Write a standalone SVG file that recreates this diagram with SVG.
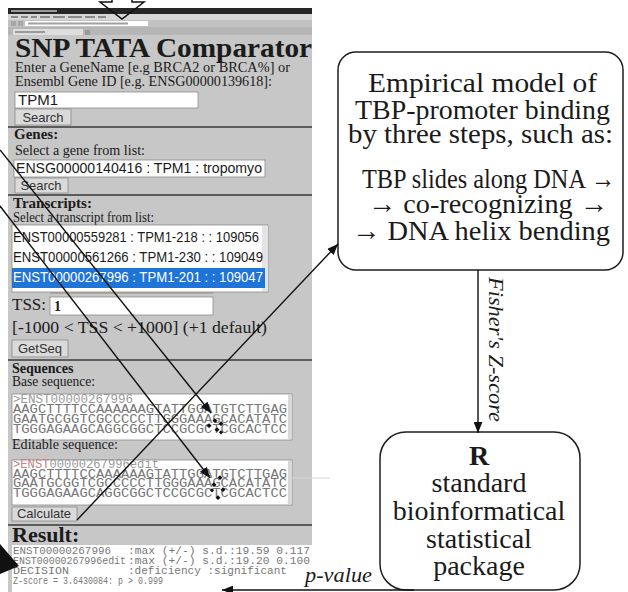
<svg xmlns="http://www.w3.org/2000/svg" width="628" height="592" viewBox="0 0 628 592">
<defs>
<style>
.serif{font-family:"Liberation Serif","Times New Roman",serif;fill:#1b1b1b}
.sans{font-family:"Liberation Sans",Arial,sans-serif;fill:#1b1b1b}
.mono{font-family:"Liberation Mono","Courier New",monospace;fill:#777}
.b{font-weight:bold}
.field{fill:#fff;stroke:#8c8c8c;stroke-width:0.8}
.btn{fill:#dadada;stroke:#8a8a8a;stroke-width:0.8}
.btxt{font-family:"Liberation Sans",Arial,sans-serif;font-size:13px;fill:#333;text-anchor:middle}
.sep{stroke:#5c5c5c;stroke-width:2}
.chip{fill:#8a8a8a}
.node{fill:#fff;stroke:#1e1e1e;stroke-width:1.5}
.ntxt{font-family:"Liberation Serif","Times New Roman",serif;font-size:28px;fill:#1a1a1a}
.conn{stroke:#111;stroke-width:1.4;fill:none}
.dot{fill:#111}
</style>
<marker id="ah" viewBox="0 0 10 8" refX="10" refY="4" markerWidth="11" markerHeight="9" markerUnits="userSpaceOnUse" orient="auto"><path d="M0,0L10,4L0,8z" fill="#111"/></marker>
<clipPath id="resclip"><rect x="12" y="545" width="300" height="47"/></clipPath>
</defs>

<rect width="628" height="592" fill="#fff"/>

<!-- browser window with the web tool -->
<g id="browser">
  <rect x="8" y="8" width="304" height="584" fill="#c7c7c7"/>
  <!-- window chrome -->
  <rect x="8" y="8" width="304" height="6" fill="#262626"/>
  <rect x="11" y="10" width="46" height="2" fill="#9a9a9a"/>
  <rect x="8" y="14" width="304" height="6" fill="#d6d6d6"/>
  <g fill="#8a8a8a">
    <rect x="11" y="16" width="7" height="2"/><rect x="21" y="16" width="7" height="2"/><rect x="31" y="16" width="6" height="2"/>
    <rect x="40" y="16" width="10" height="2"/><rect x="53" y="16" width="12" height="2"/><rect x="68" y="16" width="14" height="2"/>
    <rect x="85" y="16" width="10" height="2"/><rect x="98" y="16" width="8" height="2"/>
  </g>
  <rect x="8" y="20" width="304" height="7" fill="#c2c2c2"/>
  <rect x="11" y="21" width="5" height="5" fill="#a8a8a8"/><rect x="18" y="21" width="5" height="5" fill="#a8a8a8"/>
  <rect x="25" y="21" width="123" height="5" fill="#fff"/>
  <rect x="28" y="22.5" width="100" height="2" fill="#a0a0a0"/>
  <rect x="8" y="27" width="304" height="8" fill="#b6b6b6"/>
  <rect x="13" y="29" width="70" height="6" fill="#dedede"/>
  <rect x="15" y="31" width="30" height="2" fill="#9a9a9a"/>
  <rect x="85" y="30" width="5" height="5" fill="#999"/>

  <!-- search form -->
  <text x="15" y="57" class="serif b" font-size="28" textLength="297" lengthAdjust="spacingAndGlyphs">SNP TATA Comparator</text>
  <text x="15" y="72" class="serif" font-size="15.5" textLength="275" lengthAdjust="spacingAndGlyphs">Enter a GeneName [e.g BRCA2 or BRCA%] or</text>
  <text x="15" y="86" class="serif" font-size="15.5" textLength="257" lengthAdjust="spacingAndGlyphs">Ensembl Gene ID [e.g. ENSG00000139618]:</text>
  <rect x="15" y="92" width="183" height="16" class="field"/>
  <text x="18" y="105" class="sans" font-size="15">TPM1</text>
  <rect x="15" y="109" width="56" height="16" class="btn"/>
  <text x="43" y="122" class="btxt">Search</text>
  <line x1="8" y1="127" x2="312" y2="127" class="sep"/>

  <!-- genes -->
  <text x="14" y="139" class="serif b" font-size="15">Genes:</text>
  <text x="15" y="155" class="serif" font-size="15" textLength="130" lengthAdjust="spacingAndGlyphs">Select a gene from list:</text>
  <rect x="14" y="160" width="251" height="17" class="field"/>
  <text x="16" y="173" class="sans" font-size="14" textLength="246" lengthAdjust="spacingAndGlyphs">ENSG00000140416 : TPM1 : tropomyo</text>
  <rect x="15" y="178" width="53" height="15" class="btn"/>
  <text x="41" y="190" class="btxt">Search</text>
  <line x1="8" y1="195" x2="312" y2="195" class="sep"/>

  <!-- transcripts -->
  <text x="13" y="208" class="serif b" font-size="15">Transcripts:</text>
  <text x="13" y="222" class="serif" font-size="15" textLength="141" lengthAdjust="spacingAndGlyphs">Select a transcript from list:</text>
  <rect x="12" y="225" width="256" height="67" class="field"/>
  <rect x="262" y="226" width="6" height="65" fill="#e4e4e4"/>
  <text x="13" y="242" class="sans" font-size="14" textLength="246" lengthAdjust="spacingAndGlyphs">ENST00000559281 : TPM1-218 : : 109056</text>
  <text x="13" y="262" class="sans" font-size="14" textLength="250" lengthAdjust="spacingAndGlyphs">ENST00000561266 : TPM1-230 : : 109049</text>
  <rect x="12" y="268" width="253" height="20" fill="#1f74d8"/>
  <text x="13" y="282" class="sans" font-size="14" fill="#fff" style="fill:#fff" textLength="250" lengthAdjust="spacingAndGlyphs">ENST00000267996 : TPM1-201 : : 109047</text>
  <line x1="50" y1="293" x2="213" y2="293" stroke="#9a8a7a" stroke-width="1.2"/>

  <!-- TSS -->
  <text x="12" y="310" class="serif" font-size="17">TSS:</text>
  <rect x="50" y="297" width="163" height="18" class="field"/>
  <text x="54" y="311" class="serif b" font-size="14">1</text>
  <text x="12" y="333" class="serif" font-size="17" textLength="255" lengthAdjust="spacingAndGlyphs">[-1000 &lt; TSS &lt; +1000] (+1 default)</text>
  <rect x="12" y="340" width="56" height="17" class="btn"/>
  <text x="40" y="353" class="btxt">GetSeq</text>
  <line x1="8" y1="360" x2="312" y2="360" class="sep"/>

  <!-- sequences -->
  <text x="12" y="373" class="serif b" font-size="14">Sequences</text>
  <text x="12" y="386" class="serif" font-size="15" textLength="83" lengthAdjust="spacingAndGlyphs">Base sequence:</text>
  <rect x="12" y="394" width="280" height="46" class="field"/>
  <rect x="288" y="395" width="4" height="44" fill="#d8d8d8"/>
  <text x="13" y="403" class="mono" font-size="12" fill="#999" style="fill:#999" textLength="120" lengthAdjust="spacingAndGlyphs">&gt;ENST00000267996</text>
  <text x="13" y="413" class="mono" font-size="12.5" textLength="274" lengthAdjust="spacingAndGlyphs">AAGCTTTTCCAAAAAAGTATTGGATGTCTTGAG</text>
  <text x="13" y="423" class="mono" font-size="12.5" textLength="274" lengthAdjust="spacingAndGlyphs">GAATGCGGTCGCCCCCTTGGGAAAGCACATATC</text>
  <text x="13" y="433" class="mono" font-size="12.5" textLength="274" lengthAdjust="spacingAndGlyphs">TGGGAGAAGCAGGCGGCTCCGCGCTCGCACTCC</text>

  <text x="12" y="449" class="serif" font-size="15" textLength="106" lengthAdjust="spacingAndGlyphs">Editable sequence:</text>
  <rect x="12" y="460" width="280" height="45" class="field"/>
  <rect x="288" y="461" width="4" height="43" fill="#d8d8d8"/>
  <line x1="292" y1="478" x2="330" y2="478" stroke="#d4d4d4" stroke-width="1"/>
  <text x="13" y="468" class="mono" font-size="12" style="fill:#999" textLength="146" lengthAdjust="spacingAndGlyphs"><tspan style="fill:#c98080">&gt;ENST</tspan>00000267996edit</text>
  <text x="13" y="478" class="mono" font-size="12.5" textLength="274" lengthAdjust="spacingAndGlyphs">AAGCTTTTCCAAAAAAGTATTGGATGTCTTGAG</text>
  <text x="13" y="487" class="mono" font-size="12.5" textLength="274" lengthAdjust="spacingAndGlyphs">GAATGCGGTCGCCCCCTTGGGAAAGCACATATC</text>
  <text x="13" y="497" class="mono" font-size="12.5" textLength="274" lengthAdjust="spacingAndGlyphs">TGGGAGAAGCAGGCGGCTCCGCGCTCGCACTCC</text>
  <rect x="12" y="507" width="65" height="14" class="btn"/>
  <text x="44" y="518" class="btxt">Calculate</text>
  <line x1="8" y1="525" x2="312" y2="525" class="sep" stroke-width="3"/>

  <!-- result -->
  <text x="12" y="542" class="serif b" font-size="22">Result:</text>
  <rect x="12" y="545" width="300" height="47" fill="#fff"/>
  <g clip-path="url(#resclip)" font-size="11">
    <text x="13" y="554" class="mono" textLength="98" lengthAdjust="spacingAndGlyphs">ENST00000267996</text>
    <text x="128" y="554" class="mono" textLength="182" lengthAdjust="spacingAndGlyphs">:max (+/-) s.d.:19.59 0.117</text>
    <text x="13" y="564" class="mono" textLength="113" lengthAdjust="spacingAndGlyphs">ENST00000267996edit</text>
    <text x="128" y="564" class="mono" textLength="182" lengthAdjust="spacingAndGlyphs">:max (+/-) s.d.:19.20 0.100</text>
    <text x="13" y="574" class="mono" textLength="56" lengthAdjust="spacingAndGlyphs">DECISION</text>
    <text x="128" y="574" class="mono" textLength="159" lengthAdjust="spacingAndGlyphs">:deficiency :significant</text>
    <text x="13" y="584" class="mono" textLength="150" lengthAdjust="spacingAndGlyphs">Z-score = 3.6430084: p &gt; 0.999</text>
  </g>
</g>

<!-- model node -->
<g id="model">
  <rect x="338" y="52" width="285" height="218" rx="18" class="node"/>
  <text x="368" y="92" class="ntxt" textLength="229" lengthAdjust="spacingAndGlyphs">Empirical  model of</text>
  <text x="355" y="119" class="ntxt" textLength="255" lengthAdjust="spacingAndGlyphs">TBP-promoter binding</text>
  <text x="348" y="143" class="ntxt" textLength="265" lengthAdjust="spacingAndGlyphs">by three  steps, such as:</text>
  <text x="362" y="188" class="ntxt" textLength="253" lengthAdjust="spacingAndGlyphs">TBP slides along DNA →</text>
  <text x="368" y="213" class="ntxt" textLength="240" lengthAdjust="spacingAndGlyphs">→ co-recognizing →</text>
  <text x="352" y="240" class="ntxt" textLength="258" lengthAdjust="spacingAndGlyphs">→ DNA helix  bending</text>
</g>

<!-- R node -->
<g id="rpackage">
  <rect x="380" y="432" width="200" height="158" rx="26" class="node"/>
  <text x="479" y="465" class="ntxt b" text-anchor="middle">R</text>
  <text x="479" y="492" class="ntxt" text-anchor="middle">standard</text>
  <text x="479" y="520" class="ntxt" text-anchor="middle">bioinformatical</text>
  <text x="479" y="548" class="ntxt" text-anchor="middle">statistical</text>
  <text x="479" y="575" class="ntxt" text-anchor="middle">package</text>
</g>

<!-- connectors -->
<g id="connectors">
  <path class="conn" d="M0,150L211,413" marker-end="url(#ah)"/>
  <path class="conn" d="M0,206L210,478" marker-end="url(#ah)"/>
  <path class="conn" d="M77,520L338,244" marker-end="url(#ah)"/>
  <path class="conn" d="M478,270L478,433" marker-end="url(#ah)"/>
  <path class="conn" d="M414,590L222,590" marker-end="url(#ah)"/>
  <!-- scattered arrow tips -->
  <g class="dot">
    <rect x="213" y="419" width="3.5" height="3.5" transform="rotate(45 215 421)"/>
    <rect x="207" y="424" width="3.5" height="3.5" transform="rotate(45 209 426)"/>
    <rect x="219" y="422" width="3.5" height="3.5" transform="rotate(45 221 424)"/>
    <rect x="215" y="428" width="3.5" height="3.5" transform="rotate(45 217 430)"/>
    <rect x="219" y="431" width="3" height="3" transform="rotate(45 221 433)"/>
    <rect x="218" y="476" width="3.5" height="3.5" transform="rotate(45 220 478)"/>
    <rect x="212" y="483" width="3.5" height="3.5" transform="rotate(45 214 485)"/>
    <rect x="221" y="488" width="3.5" height="3.5" transform="rotate(45 223 490)"/>
    <rect x="210" y="489" width="3" height="3" transform="rotate(45 212 491)"/>
    <rect x="216" y="496" width="3.5" height="3.5" transform="rotate(45 218 498)"/>
  </g>
  <!-- hollow input arrow at the top -->
  <path d="M112,-2V2H100L122,19L144,2H132V-2" fill="none" stroke="#111" stroke-width="1.5" stroke-linejoin="miter"/>
  <!-- incoming arrowhead at the left edge -->
  <path d="M0,544L19,566L0,574z" fill="#111"/>
  <text transform="translate(489,277) rotate(90)" class="serif" font-size="21" font-style="italic" textLength="145" lengthAdjust="spacingAndGlyphs">Fisher's  Z-score</text>
  <text x="305" y="582" class="serif" font-size="22" font-style="italic" textLength="67" lengthAdjust="spacingAndGlyphs">p-value</text>
</g>
</svg>
